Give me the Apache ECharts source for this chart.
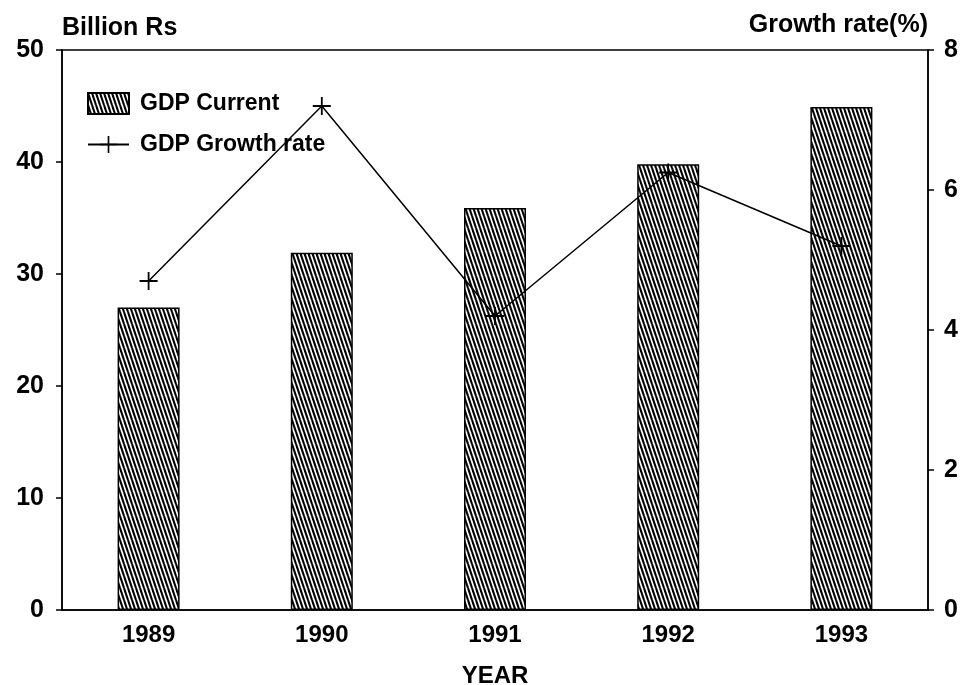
<!DOCTYPE html>
<html>
<head>
<meta charset="utf-8">
<script src="https://cdn.jsdelivr.net/npm/echarts@6/dist/echarts.min.js"></script>
<style>
html,body{margin:0;padding:0;background:#fff;}
#chart{width:966px;height:685px;}
</style>
</head>
<body>
<div id="chart"></div>
<script>
const years = ['1989', '1990', '1991', '1992', '1993'];
const gdpCurrent = [27.0, 31.9, 35.9, 39.8, 44.9];
const gdpGrowth = [4.7, 7.2, 4.2, 6.25, 5.2];
const leftTicks = { min: 0, max: 50, interval: 10 };
const rightTicks = { min: 0, max: 8, interval: 2 };

// hatch pattern: steep backslash stripes
function makeHatch() {
  const w = 4, h = 12;
  const c = document.createElement('canvas');
  c.width = w; c.height = h;
  const ctx = c.getContext('2d');
  ctx.fillStyle = '#fff';
  ctx.fillRect(0, 0, w, h);
  ctx.strokeStyle = '#000';
  ctx.lineWidth = 2.1;
  for (let k = -1; k <= 1; k++) {
    ctx.beginPath();
    ctx.moveTo(k * w, 0);
    ctx.lineTo(k * w + w, h);
    ctx.stroke();
  }
  return c;
}
const hatch = { image: makeHatch(), repeat: 'repeat' };
const plusPath = 'path://M0,9 H20 V11 H0 Z M9,0 H11 V20 H9 Z';
const FONT = '"Liberation Sans", Arial, sans-serif';

const chart = echarts.init(document.getElementById('chart'), null, { renderer: 'canvas' });
chart.setOption({
  animation: false,
  backgroundColor: '#fff',
  textStyle: { fontFamily: FONT, fontWeight: 'bold', color: '#000' },
  grid: {
    left: 62, right: 38, top: 50, bottom: 75,
    containLabel: false,
    outerBoundsMode: 'none',
    show: true, borderColor: '#000', borderWidth: 1.5, backgroundColor: 'transparent'
  },
  legend: {
    orient: 'vertical',
    left: 82, top: 87,
    itemWidth: 41, itemHeight: 21, itemGap: 18,
    textStyle: { fontSize: 23, fontWeight: 'bold', color: '#000', fontFamily: FONT, padding: [0, 0, 0, 6] },
    data: [
      { name: 'GDP Current', icon: 'rect' },
      { name: 'GDP Growth rate' }
    ]
  },
  xAxis: {
    type: 'category',
    data: years,
    axisLine: { lineStyle: { color: '#000', width: 1.5 } },
    axisTick: { show: false },
    axisLabel: { fontSize: 24, fontWeight: 'bold', color: '#000', fontFamily: FONT, margin: 13 },
    name: 'YEAR',
    nameLocation: 'middle',
    nameGap: 54,
    nameTextStyle: { fontSize: 24, fontWeight: 'bold', color: '#000', fontFamily: FONT }
  },
  yAxis: [
    {
      type: 'value',
      min: leftTicks.min, max: leftTicks.max, interval: leftTicks.interval,
      position: 'left',
      axisLine: { show: true, lineStyle: { color: '#000', width: 1.5 } },
      axisTick: { show: true, length: 6, lineStyle: { color: '#000', width: 1.5 } },
      splitLine: { show: false },
      axisLabel: { fontSize: 25, fontWeight: 'bold', color: '#000', fontFamily: FONT, margin: 18 },
      name: 'Billion Rs',
      nameLocation: 'end',
      nameGap: 9,
      nameTextStyle: { fontSize: 25, fontWeight: 'bold', color: '#000', fontFamily: FONT, align: 'left' }
    },
    {
      type: 'value',
      min: rightTicks.min, max: rightTicks.max, interval: rightTicks.interval,
      position: 'right',
      axisLine: { show: true, lineStyle: { color: '#000', width: 1.5 } },
      axisTick: { show: true, length: 6, lineStyle: { color: '#000', width: 1.5 } },
      splitLine: { show: false },
      axisLabel: { fontSize: 25, fontWeight: 'bold', color: '#000', fontFamily: FONT, margin: 16 },
      name: 'Growth rate(%)',
      nameLocation: 'end',
      nameGap: 12,
      nameTextStyle: { fontSize: 25, fontWeight: 'bold', color: '#000', fontFamily: FONT, align: 'right' }
    }
  ],
  series: [
    {
      name: 'GDP Current',
      type: 'bar',
      data: gdpCurrent,
      yAxisIndex: 0,
      barWidth: 62,
      itemStyle: { color: hatch, borderColor: '#000', borderWidth: 1.5 }
    },
    {
      name: 'GDP Growth rate',
      type: 'line',
      data: gdpGrowth,
      yAxisIndex: 1,
      symbol: plusPath,
      symbolSize: 18,
      showAllSymbol: true,
      z: 5,
      lineStyle: { color: '#000', width: 1.5 },
      itemStyle: { color: '#000', borderWidth: 0 }
    }
  ]
});
</script>
</body>
</html>
